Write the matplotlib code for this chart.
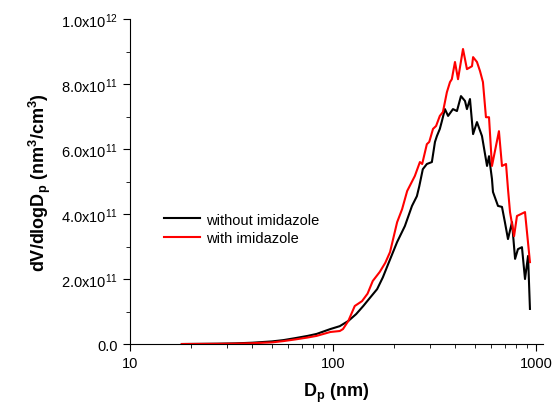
import matplotlib
matplotlib.use('Agg')
import matplotlib.pyplot as plt
from matplotlib.ticker import FuncFormatter, MultipleLocator, LogLocator

plt.rcParams['font.family'] = ['Liberation Sans', 'DejaVu Sans']
plt.rcParams['mathtext.default'] = 'regular'

# particle diameter (nm) and dV/dlogDp (x1e11 nm3/cm3)
dp_without = [18, 22, 27, 33, 40, 50, 57, 65, 75, 83, 97, 108, 119, 130, 141,
              152, 165, 176, 187, 207, 226, 245, 259, 266, 277, 290, 307, 318,
              325, 336, 344, 356, 369, 390, 408, 427, 447, 457, 473, 490, 512,
              542, 574, 587, 607, 614, 650, 680, 703, 728, 762, 789, 815, 853,
              883, 914, 934]
dv_without = [0.0, 0.005, 0.01, 0.02, 0.04, 0.08, 0.12, 0.18, 0.25, 0.31, 0.46,
              0.55, 0.71, 0.92, 1.17, 1.42, 1.69, 2.05, 2.46, 3.14, 3.63, 4.25,
              4.55, 4.85, 5.38, 5.54, 5.60, 6.22, 6.40, 6.62, 6.86, 7.23, 7.02,
              7.23, 7.17, 7.63, 7.48, 7.23, 7.54, 6.46, 6.83, 6.40, 5.48, 5.78,
              5.08, 4.68, 4.25, 4.22, 3.75, 3.23, 3.75, 2.62, 2.92, 2.98, 2.00,
              2.71, 1.08]

dp_with = [18, 22, 27, 33, 40, 50, 57, 65, 75, 83, 97, 108, 112, 119, 128, 139,
           148, 157, 170, 181, 191, 207, 219, 232, 253, 268, 275, 290, 298, 311,
           322, 336, 348, 364, 377, 385, 399, 413, 437, 457, 484, 490, 512, 530,
           548, 567, 587, 607, 657, 680, 712, 728, 745, 780, 806, 883, 934]
dv_with = [0.0, 0.003, 0.006, 0.012, 0.025, 0.05, 0.09, 0.14, 0.2, 0.25, 0.37,
           0.40, 0.46, 0.71, 1.17, 1.32, 1.55, 1.94, 2.22, 2.50, 2.83, 3.75, 4.15,
           4.71, 5.17, 5.60, 5.54, 6.15, 6.22, 6.62, 6.71, 7.02, 7.14, 7.75, 8.06,
           8.15, 8.68, 8.15, 9.08, 8.46, 8.55, 8.83, 8.68, 8.40, 8.06, 6.98, 6.98,
           5.48, 6.55, 5.48, 5.54, 4.77, 4.06, 3.32, 3.94, 4.06, 2.52]

fig = plt.figure(figsize=(5.54, 4.10), dpi=100)
ax = fig.add_axes([0.2347, 0.1585, 0.745, 0.7925])

ax.plot(dp_without, [v * 1e11 for v in dv_without], color='black', lw=1.5,
        label='without imidazole')
ax.plot(dp_with, [v * 1e11 for v in dv_with], color='red', lw=1.5,
        label='with imidazole')

ax.set_xscale('log')
ax.set_xlim(10, 1080)
ax.set_ylim(0, 1e12)

def sci_fmt(v, pos):
    if v == 0:
        return '0.0'
    e = 0
    m = v
    while m >= 10:
        m /= 10
        e += 1
    return '%.1fx10$^{%d}$' % (m, e)

ax.yaxis.set_major_locator(MultipleLocator(2e11))
ax.yaxis.set_minor_locator(MultipleLocator(1e11))
ax.yaxis.set_major_formatter(FuncFormatter(sci_fmt))
ax.xaxis.set_major_locator(LogLocator(base=10))
ax.xaxis.set_minor_locator(LogLocator(base=10, subs=range(2, 10)))
ax.xaxis.set_major_formatter(FuncFormatter(lambda v, p: '%d' % v))

for s in ['top', 'right']:
    ax.spines[s].set_visible(False)
ax.tick_params(which='major', direction='out', length=5, labelsize=10.5)
ax.tick_params(which='minor', direction='out', length=3)

ax.set_xlabel('D$_p$ (nm)', fontsize=13, fontweight='bold', labelpad=8)
ax.set_ylabel('dV/dlogD$_p$ (nm$^3$/cm$^3$)', fontsize=13, fontweight='bold',
              labelpad=6)

ax.legend(loc='upper left', bbox_to_anchor=(0.05, 0.445), frameon=False,
          fontsize=10.5, handlelength=2.5, handletextpad=0.4, labelspacing=0.3)

fig.savefig('out.png', dpi=100)
